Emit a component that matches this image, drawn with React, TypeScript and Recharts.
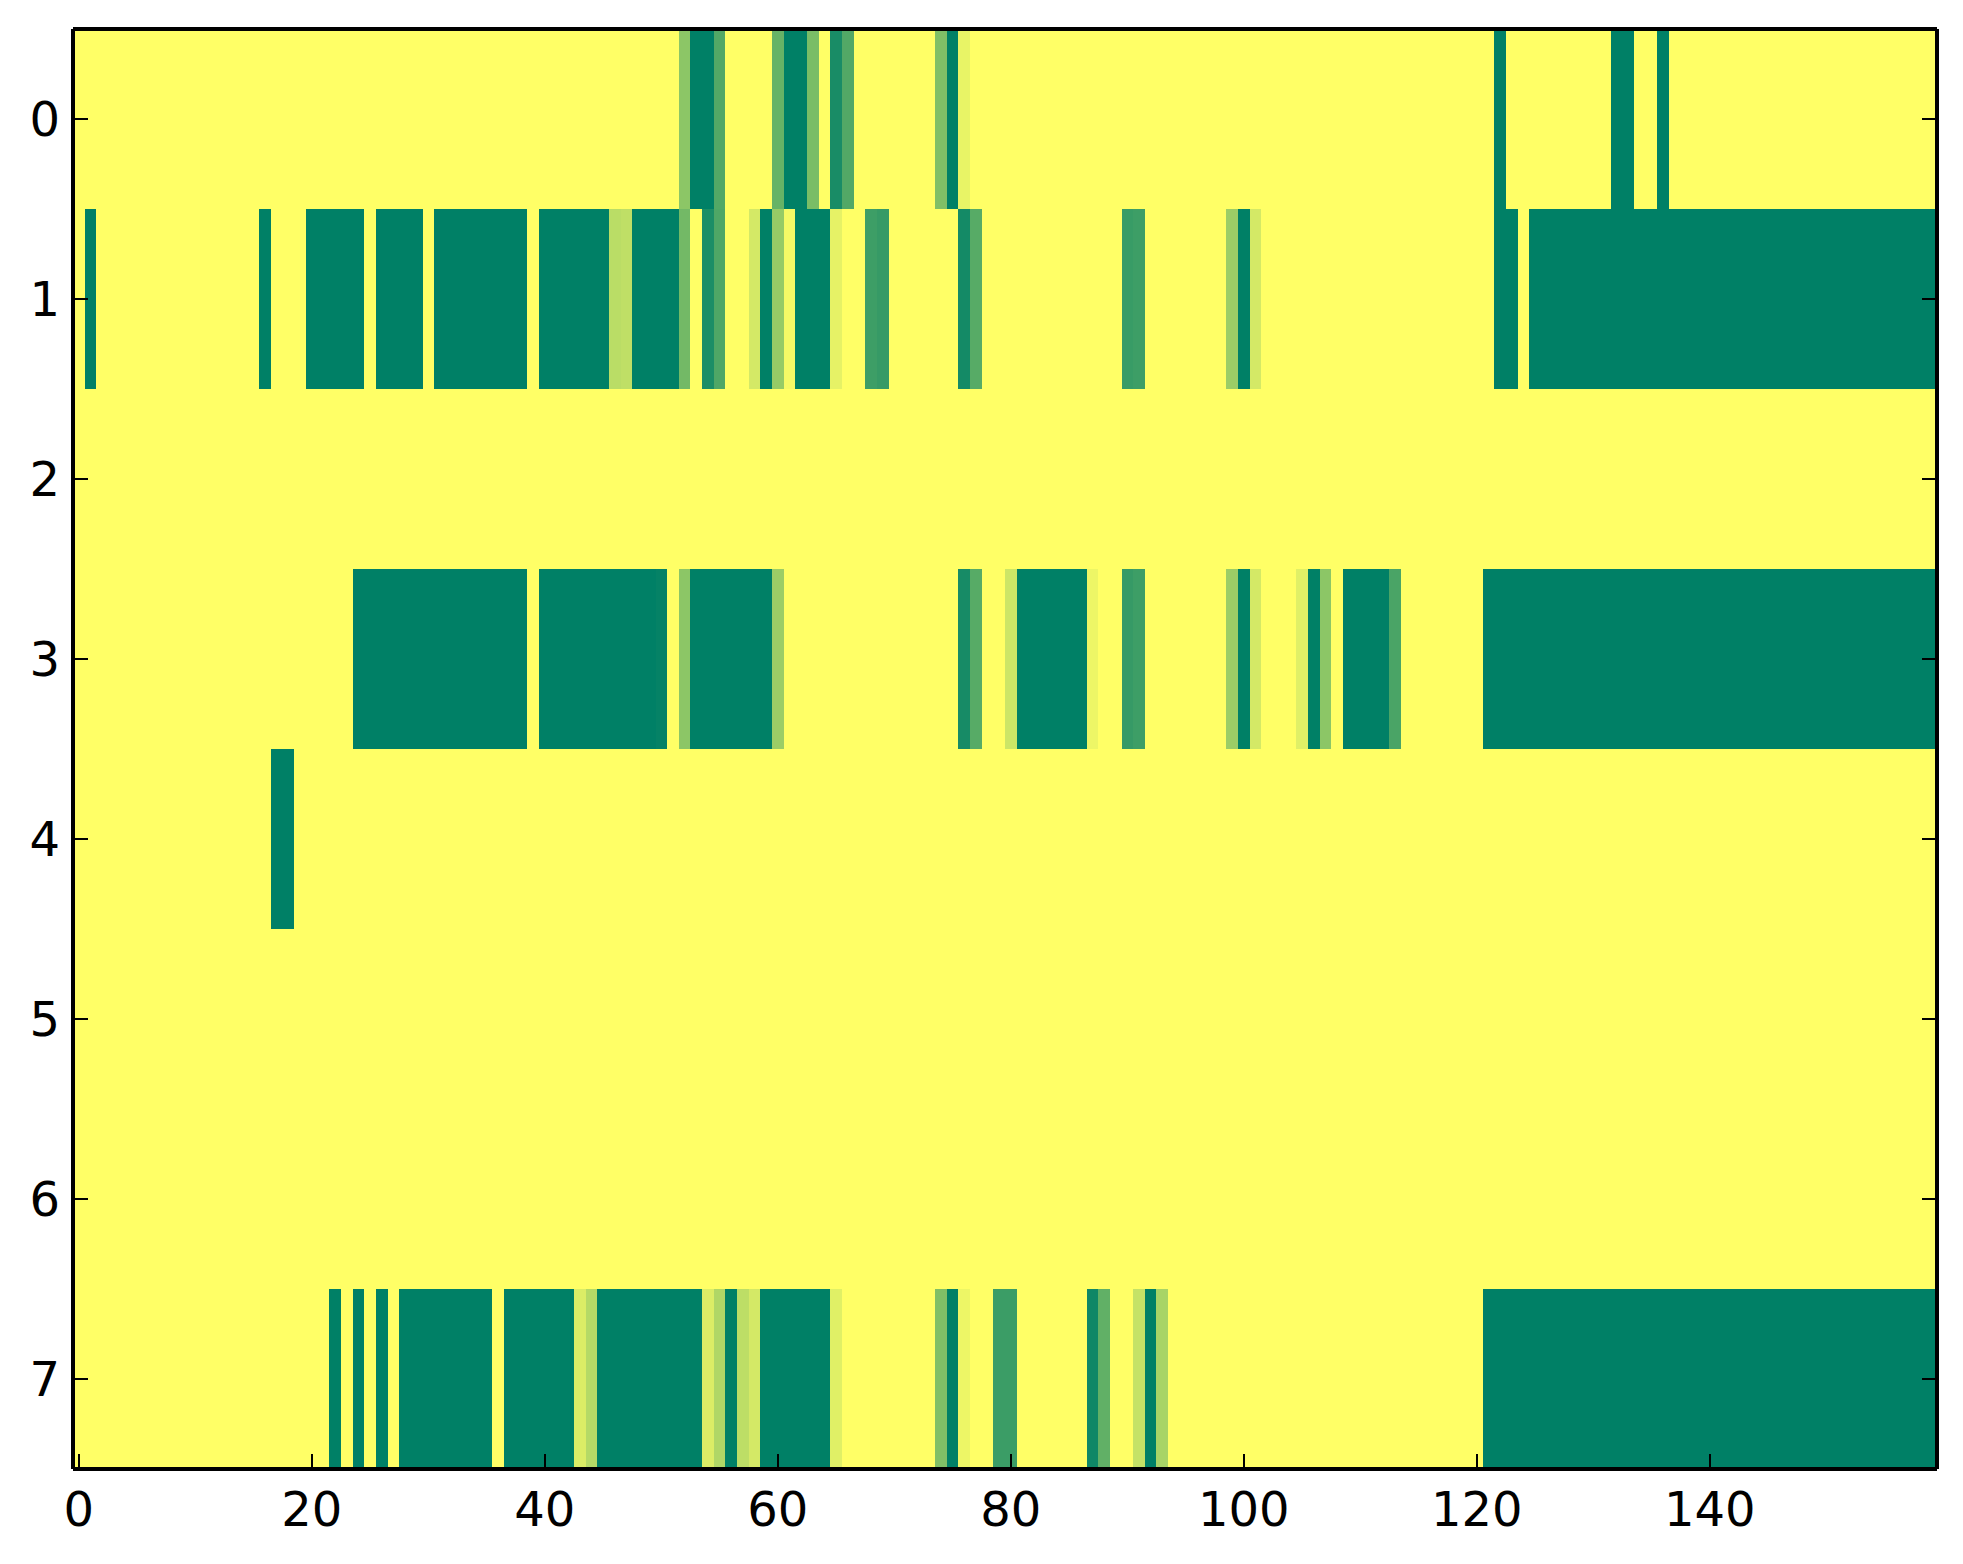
import React from "react";
import { BarChart, Bar, Cell, XAxis, YAxis } from "recharts";

const ROW_LABELS = ["0", "1", "2", "3", "4", "5", "6", "7"];
const COLUMN_COUNT = 160;
const X_TICK_LABELS = [0, 20, 40, 60, 80, 100, 120, 140];

// each row: runs of [firstColumn, lastColumn, value], all other cells are 0
const ROW_0 = [
  [52, 52, 0.45], [53, 54, 1], [55, 55, 0.68], [60, 60, 0.6], [61, 62, 1],
  [63, 63, 0.52], [65, 65, 0.9], [66, 66, 0.68], [74, 74, 0.5], [75, 75, 1],
  [76, 76, 0.09], [122, 122, 1], [132, 133, 1], [136, 136, 1],
];
const ROW_1 = [
  [1, 1, 1], [16, 16, 1], [20, 24, 1], [26, 29, 1], [31, 38, 1], [40, 45, 1],
  [46, 46, 0.27], [47, 47, 0.25], [48, 51, 1], [52, 52, 0.55], [54, 54, 0.89],
  [55, 55, 0.69], [58, 58, 0.17], [59, 59, 1], [60, 60, 0.41], [61, 61, 0.04],
  [62, 64, 1], [65, 65, 0.1], [68, 68, 0.76], [69, 69, 0.79], [76, 76, 0.92],
  [77, 77, 0.66], [90, 90, 0.78], [91, 91, 0.76], [99, 99, 0.39], [100, 100, 1],
  [101, 101, 0.17], [122, 123, 1], [125, 159, 1],
];
const ROW_2: number[][] = [];
const ROW_3 = [
  [24, 38, 1], [40, 49, 1], [50, 50, 0.98], [52, 52, 0.45], [53, 59, 1],
  [60, 60, 0.39], [76, 76, 0.91], [77, 77, 0.66], [80, 80, 0.2], [81, 86, 1],
  [87, 87, 0.07], [90, 90, 0.79], [91, 91, 0.76], [99, 99, 0.39], [100, 100, 1],
  [101, 101, 0.17], [105, 105, 0.12], [106, 106, 1], [107, 107, 0.45],
  [109, 112, 1], [113, 113, 0.71], [121, 159, 1],
];
const ROW_4 = [[17, 18, 1]];
const ROW_5: number[][] = [];
const ROW_6: number[][] = [];
const ROW_7 = [
  [22, 22, 1], [24, 24, 1], [26, 26, 1], [28, 35, 1], [37, 42, 1],
  [43, 43, 0.14], [44, 44, 0.29], [45, 53, 1], [54, 54, 0.14], [55, 55, 0.31],
  [56, 56, 1], [57, 57, 0.26], [58, 58, 0.17], [59, 64, 1], [65, 65, 0.12],
  [74, 74, 0.5], [75, 75, 1], [76, 76, 0.07], [79, 80, 0.77], [87, 87, 0.94],
  [88, 88, 0.62], [91, 91, 0.23], [92, 92, 1], [93, 93, 0.34], [121, 159, 1],
];

const ROW_RUNS = [ROW_0, ROW_1, ROW_2, ROW_3, ROW_4, ROW_5, ROW_6, ROW_7];

const expandRow = (runs: number[][]) => {
  const cells = new Array(COLUMN_COUNT).fill(0);
  runs.forEach(([first, last, value]) => {
    for (let c = first; c <= last; c++) cells[c] = value;
  });
  return cells;
};

const MATRIX = ROW_RUNS.map(expandRow);
const COLUMN_KEYS = Array.from({ length: COLUMN_COUNT }, (_, i) => `c${i}`);

// every cell is one unit wide, stacked left to right
const chartData = ROW_LABELS.map((row) => {
  const entry: Record<string, string | number> = { row };
  COLUMN_KEYS.forEach((key) => (entry[key] = 1));
  return entry;
});

// matplotlib "summer_r"
const summerR = (v: number) =>
  `rgb(${Math.round(255 * (1 - v))}, ${Math.round(255 * (1 - v / 2))}, 102)`;

const FONT = "DejaVu Sans";
const TICK_LEN = 15;

const BottomTick = ({ x, y, payload }: any) => (
  <g>
    <line x1={x} x2={x} y1={y} y2={y - TICK_LEN} stroke="#000" strokeWidth={2} />
    <text x={x} y={y + 57} textAnchor="middle" fontSize={48} fontFamily={FONT} fill="#000">
      {Math.round(payload.value - 0.5)}
    </text>
  </g>
);

const TopTick = ({ x, y }: any) => (
  <line x1={x} x2={x} y1={y} y2={y + TICK_LEN} stroke="#000" strokeWidth={2} />
);

const LeftTick = ({ x, y, payload }: any) => (
  <g>
    <line x1={x} x2={x + TICK_LEN} y1={y} y2={y} stroke="#000" strokeWidth={2} />
    <text x={x - 13} y={y} dy="0.36em" textAnchor="end" fontSize={48} fontFamily={FONT} fill="#000">
      {payload.value}
    </text>
  </g>
);

const RightTick = ({ x, y }: any) => (
  <line x1={x} x2={x - TICK_LEN} y1={y} y2={y} stroke="#000" strokeWidth={2} />
);

const axisLine = { stroke: "#000", strokeWidth: 3.2 };

export default function App() {
  return (
    <div
      style={{
        position: "absolute",
        left: 0,
        top: 0,
        width: 1963,
        height: 1564,
        background: "#fff",
        shapeRendering: "crispEdges",
      }}
    >
      <BarChart
        width={1963}
        height={1564}
        data={chartData}
        layout="vertical"
        barCategoryGap={0}
        barGap={0}
        margin={{ top: 28, right: 25, bottom: 0, left: 0 }}
      >
        <XAxis
          type="number"
          domain={[0, COLUMN_COUNT]}
          ticks={X_TICK_LABELS.map((t) => t + 0.5)}
          height={95}
          tickSize={0}
          tickMargin={0}
          tickLine={false}
          axisLine={axisLine}
          tick={BottomTick}
          interval={0}
        />
        <XAxis
          xAxisId="top"
          orientation="top"
          type="number"
          domain={[0, COLUMN_COUNT]}
          ticks={X_TICK_LABELS.map((t) => t + 0.5)}
          height={1}
          tickSize={0}
          tickMargin={0}
          tickLine={false}
          axisLine={axisLine}
          tick={TopTick}
          interval={0}
        />
        <YAxis
          type="category"
          dataKey="row"
          width={73}
          tickSize={0}
          tickMargin={0}
          tickLine={false}
          axisLine={axisLine}
          tick={LeftTick}
          interval={0}
        />
        <YAxis
          yAxisId="right"
          orientation="right"
          type="category"
          dataKey="row"
          width={1}
          tickSize={0}
          tickMargin={0}
          tickLine={false}
          axisLine={axisLine}
          tick={RightTick}
          interval={0}
        />
        {COLUMN_KEYS.map((key, col) => (
          <Bar key={key} dataKey={key} stackId="cells" isAnimationActive={false}>
            {MATRIX.map((cells, row) => (
              <Cell key={row} fill={summerR(cells[col])} />
            ))}
          </Bar>
        ))}
      </BarChart>
    </div>
  );
}
